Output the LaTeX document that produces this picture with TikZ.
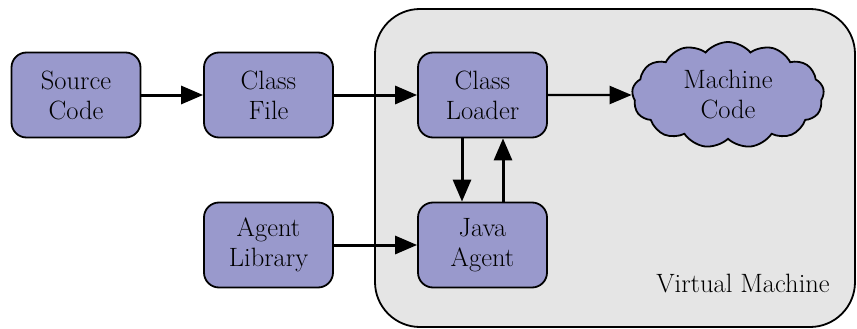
\documentclass[tikz,border=0pt]{standalone}
\usepackage{fontspec}
\usetikzlibrary{arrows.meta,shapes.symbols}

\definecolor{boxfill}{RGB}{153,153,204}
\definecolor{vmfill}{RGB}{229,229,229}

\tikzset{
  labelfont/.style={font=\rmfamily\fontsize{26.5}{30}\selectfont},
  stagebox/.style={draw=black, line width=1.8pt, fill=boxfill, rounded corners=15pt,
    minimum width=129pt, minimum height=85pt, align=center, labelfont, inner sep=0pt},
  flow/.style={line width=3pt, -{Triangle[length=22pt,width=18pt]}},
  thinflow/.style={line width=2.2pt, -{Triangle[length=22pt,width=18pt]}},
}

\begin{document}
\begin{tikzpicture}[x=1pt,y=-1pt]
  \useasboundingbox (0,0) rectangle (857,329);

  % virtual machine container
  \draw[line width=1.8pt, fill=vmfill, rounded corners=45pt] (375,9) rectangle (855,327);
  \node[labelfont, anchor=base] (vmlabel) at (743,292) {Virtual Machine};

  % stages
  \node[stagebox] (src)    at (76,95)   {Source\\Code};
  \node[stagebox] (cfile)  at (268.5,95) {Class\\File};
  \node[stagebox] (loader) at (482.5,95) {Class\\Loader};
  \node[stagebox] (alib)   at (268.5,245) {Agent\\Library};
  \node[stagebox] (agent)  at (482.5,245) {Java\\Agent};

  % machine code cloud
  \node[cloud, cloud puffs=13, cloud puff arc=100, aspect=1.9, draw=black, line width=1.8pt,
        fill=boxfill, minimum width=192pt, minimum height=106pt, inner sep=0pt,
        align=center, labelfont] (mcode) at (728,95) {Machine\\Code};

  % connectors
  \draw[flow] (src) -- (cfile);
  \draw[flow] (cfile) -- (loader);
  \draw[thinflow] (loader.east) -- (mcode.west);
  \draw[flow] (alib) -- (agent);
  \draw[flow] (loader.south -| 462,0) -- (agent.north -| 462,0);
  \draw[flow] (agent.north -| 503,0) -- (loader.south -| 503,0);
\end{tikzpicture}
\end{document}
